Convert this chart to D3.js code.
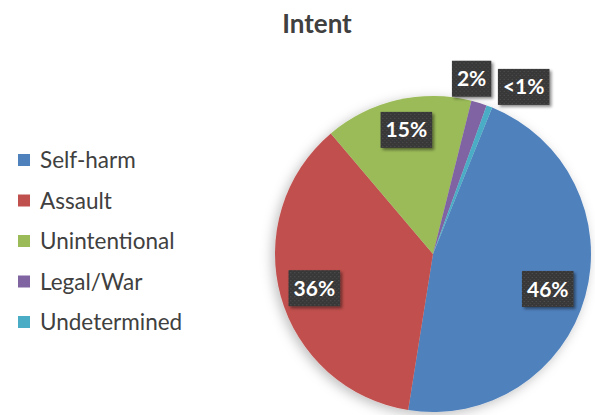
<!DOCTYPE html>
<meta charset="utf-8">
<html>
<head>
<script src="https://d3js.org/d3.v7.min.js"></script>
<style>
    body { margin: 0; background: #fff; font-family: Lato, "Open Sans", sans-serif; }
</style>
</head>
<body>
<svg id="chart"></svg>
<script>

var categories = ["Self-harm", "Assault", "Unintentional", "Legal/War", "Undetermined"]
var shares = [46.4, 36.3, 15.1, 1.6, 0.6]
var labels = ["46%", "36%", "15%", "2%", "<1%"]
var colors = ["#4F81BD", "#C0504D", "#9BBB59", "#8064A2", "#4BACC6"]

var width = 595, height = 415
var cx = 433, cy = 254, radius = 158

var svg = d3.select("#chart")
    .attr("width", width)
    .attr("height", height)

var defs = svg.append("defs")

var pieShadow = defs.append("filter").attr("id", "pieshadow")
    .attr("x", "-20%").attr("y", "-20%").attr("width", "140%").attr("height", "140%")
pieShadow.append("feDropShadow")
    .attr("dx", -3).attr("dy", 3).attr("stdDeviation", 6)
    .attr("flood-color", "#000").attr("flood-opacity", 0.25)

var boxShadow = defs.append("filter").attr("id", "boxshadow")
    .attr("x", "-30%").attr("y", "-30%").attr("width", "160%").attr("height", "160%")
boxShadow.append("feDropShadow")
    .attr("dx", 2).attr("dy", 2).attr("stdDeviation", 1.5)
    .attr("flood-color", "#000").attr("flood-opacity", 0.45)

// dotted dark texture for label boxes
var pat = defs.append("pattern").attr("id", "dots")
    .attr("width", 4).attr("height", 4).attr("patternUnits", "userSpaceOnUse")
pat.append("rect").attr("width", 4).attr("height", 4).attr("fill", "#383838")
pat.append("rect").attr("width", 1).attr("height", 1).attr("fill", "#555")
pat.append("rect").attr("x", 2).attr("y", 2).attr("width", 1).attr("height", 1).attr("fill", "#4a4a4a")

// title
svg.append("text")
    .attr("x", 317)
    .attr("y", 33)
    .attr("text-anchor", "middle")
    .attr("font-size", "26px")
    .attr("font-weight", "bold")
    .attr("fill", "#404040")
    .text("Intent")

// pie
var startDeg = 22
var pie = d3.pie()
    .sort(null)
    .startAngle(startDeg * Math.PI / 180)
    .endAngle((startDeg + 360) * Math.PI / 180)

var arcs = pie(shares)
var arc = d3.arc().innerRadius(0).outerRadius(radius)

var g = svg.append("g")
    .attr("transform", "translate(" + cx + "," + cy + ")")

g.append("g")
    .attr("filter", "url(#pieshadow)")
    .selectAll("path")
    .data(arcs)
    .enter()
    .append("path")
    .attr("d", arc)
    .attr("fill", (d, i) => colors[i])

// data labels: radius factor and small nudges per slice
var labelRadius = [0.78, 0.78, 0.8, 1.12, 1.2]
var labelNudge = [[-4, 2], [0, 1], [2, -1], [-13, -6], [23, 10]]

var lab = g.append("g")
    .selectAll("g")
    .data(arcs)
    .enter()
    .append("g")
    .attr("transform", function(d, i) {
        var a = (d.startAngle + d.endAngle) / 2
        var r = radius * labelRadius[i]
        var x = r * Math.sin(a) + labelNudge[i][0]
        var y = -r * Math.cos(a) + labelNudge[i][1]
        return "translate(" + x + "," + y + ")"
    })

lab.append("text")
    .attr("text-anchor", "middle")
    .attr("dy", "0.36em")
    .attr("font-size", "21px")
    .attr("font-weight", "bold")
    .attr("fill", "#fff")
    .text((d, i) => labels[i])

lab.each(function() {
    var t = d3.select(this).select("text")
    var bb = t.node().getBBox()
    var padX = 5
    d3.select(this).insert("rect", "text")
        .attr("x", bb.x - padX)
        .attr("y", -18)
        .attr("width", bb.width + padX * 2)
        .attr("height", 36)
        .attr("fill", "url(#dots)")
        .attr("filter", "url(#boxshadow)")
})

// legend
var legend = svg.append("g")
    .selectAll("g")
    .data(categories)
    .enter()
    .append("g")
    .attr("transform", (d, i) => "translate(18," + (160 + i * 40.5) + ")")

legend.append("rect")
    .attr("x", 0)
    .attr("y", -6)
    .attr("width", 12)
    .attr("height", 12)
    .attr("fill", (d, i) => colors[i])

legend.append("text")
    .attr("x", 22)
    .attr("dy", "0.36em")
    .attr("font-size", "22.5px")
    .attr("fill", "#404040")
    .text(d => d)
</script>
</body>
</html>
